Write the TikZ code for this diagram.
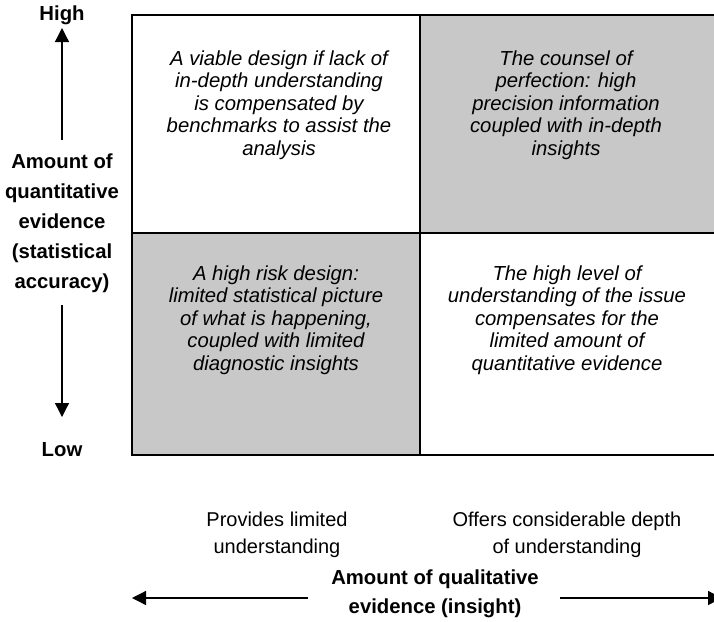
\documentclass[tikz,border=0pt]{standalone}
\usepackage{fontspec}
\setmainfont{Liberation Sans}
\usetikzlibrary{arrows.meta}
\definecolor{cellgray}{HTML}{C8C8C8}
\begin{document}
\begin{tikzpicture}[x=1pt,y=-1pt,
  gridline/.style={draw=black,line width=1.5pt},
  celltext/.style={align=center,font=\fontsize{20.3}{22.5}\selectfont\itshape,inner sep=0pt},
  axislabel/.style={align=center,font=\fontsize{20.3}{30}\selectfont\bfseries,inner sep=0pt},
  scalelabel/.style={align=center,font=\fontsize{20}{27}\selectfont,inner sep=0pt},
  axisarrow/.style={draw=black,line width=1.3pt,-{Triangle[length=14pt,width=14pt]}}]
\useasboundingbox (0,0) rectangle (714,621);
% quadrant fills
\fill[cellgray] (420,15) rectangle (722,233);
\fill[cellgray] (132,233) rectangle (420,455);
% grid
\draw[gridline] (132,15) rectangle (722,455);
\draw[gridline] (420,15) -- (420,455);
\draw[gridline] (132,233) -- (722,233);
% quadrant texts
\node[celltext] (tl) at (279,105) {A viable design if lack of\\in-depth understanding\\is compensated by\\benchmarks to assist the\\analysis};
\node[celltext] (tr) at (566,105) {The counsel of\\perfection: high\\precision information\\coupled with in-depth\\insights};
\node[celltext] (bl) at (276,320) {A high risk design:\\limited statistical picture\\of what is happening,\\coupled with limited\\diagnostic insights};
\node[celltext] (br) at (567,320) {The high level of\\understanding of the issue\\compensates for the\\limited amount of\\quantitative evidence};
% vertical axis
\node[axislabel] (high) at (62,15) {High};
\node[axislabel] (low) at (62,450) {Low};
\node[axislabel] (vlabel) at (62,223) {Amount of\\quantitative\\evidence\\(statistical\\accuracy)};
\coordinate (uptail) at (62,140);
\coordinate (uptip) at (62,28);
\coordinate (downtail) at (62,305);
\coordinate (downtip) at (62,417);
\draw[axisarrow] (uptail) -- (uptip);
\draw[axisarrow] (downtail) -- (downtip);
% horizontal scale labels
\node[scalelabel] (lowq) at (277,535) {Provides limited\\understanding};
\node[scalelabel] (highq) at (567,535) {Offers considerable depth\\of understanding};
% horizontal axis
\node[axislabel,font=\fontsize{20.3}{29}\selectfont\bfseries] (hlabel) at (435,594) {Amount of qualitative\\evidence (insight)};
\coordinate (lefttail) at (308,598);
\coordinate (lefttip) at (132,598);
\coordinate (righttail) at (560,598);
\coordinate (righttip) at (722,598);
\draw[axisarrow] (lefttail) -- (lefttip);
\draw[axisarrow] (righttail) -- (righttip);
\end{tikzpicture}
\end{document}
